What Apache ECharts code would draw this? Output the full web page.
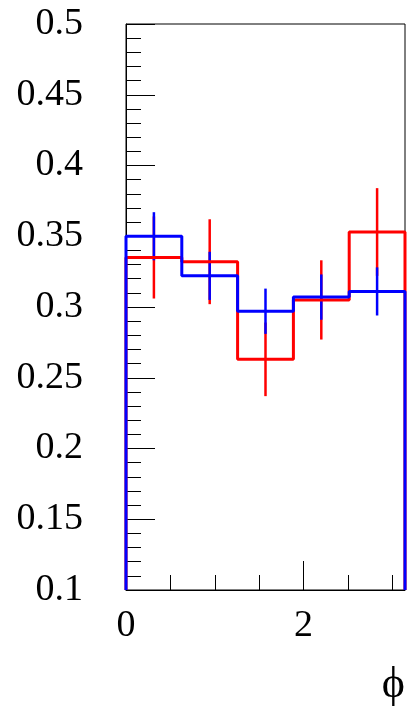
<!DOCTYPE html>
<html>
<head>
<meta charset="utf-8">
<script src="https://cdn.jsdelivr.net/npm/echarts@6/dist/echarts.min.js"></script>
<style>
  html, body { margin: 0; padding: 0; background: #fff; }
  #chart { width: 407px; height: 706px; }
</style>
</head>
<body>
<div id="chart"></div>
<script>
// Bin edges in phi (five equal bins over [0, pi])
const binEdges = [0, 0.6283, 1.2566, 1.8850, 2.5133, 3.1416];
// Red histogram: contents and errors per bin
const redValues = [0.335, 0.332, 0.263, 0.305, 0.353];
const redErrors = [0.029, 0.030, 0.026, 0.028, 0.031];
// Blue histogram: contents and errors per bin
const blueValues = [0.350, 0.322, 0.297, 0.307, 0.311];
const blueErrors = [0.017, 0.017, 0.016, 0.016, 0.017];
// Axis ranges and labels
const yMin = 0.1, yMax = 0.5;
const xMin = 0, xMax = 3.1416;
const xLabelValues = [0, 2];
const xTitle = 'ϕ';

const FONT = 'Liberation Serif';
const LABEL_SIZE = 38;

// Outline of a histogram: vertical drops at both ends, flat top on every bin
function stepOutline(values) {
  const pts = [[binEdges[0], yMin]];
  values.forEach((v, i) => {
    pts.push([binEdges[i], v]);
    pts.push([binEdges[i + 1], v]);
  });
  pts.push([binEdges[binEdges.length - 1], yMin]);
  return pts;
}

// Vertical error bars at the centre of each bin
function errorRows(values, errors) {
  return values.map((v, i) => [(binEdges[i] + binEdges[i + 1]) / 2, v - errors[i], v + errors[i]]);
}

function errorSeries(values, errors, color) {
  return {
    type: 'custom',
    xAxisIndex: 0,
    yAxisIndex: 0,
    data: errorRows(values, errors),
    encode: { x: 0, y: [1, 2] },
    clip: true,
    renderItem: function (params, api) {
      const x = api.value(0);
      const a = api.coord([x, api.value(1)]);
      const b = api.coord([x, api.value(2)]);
      return {
        type: 'line',
        shape: { x1: a[0], y1: a[1], x2: b[0], y2: b[1] },
        style: { stroke: color, lineWidth: 2.5 }
      };
    }
  };
}

function stepSeries(values, color) {
  return {
    type: 'line',
    xAxisIndex: 0,
    yAxisIndex: 0,
    data: stepOutline(values),
    showSymbol: false,
    symbol: 'none',
    lineStyle: { color: color, width: 3 },
    clip: false
  };
}

const chart = echarts.init(document.getElementById('chart'), null, { renderer: 'canvas' });

chart.setOption({
  animation: false,
  backgroundColor: '#fff',
  grid: {
    left: 126, top: 24, right: 2, bottom: 116,
    show: true, borderColor: '#000', borderWidth: 1, backgroundColor: 'transparent'
  },
  xAxis: [
    {
      // minor ticks every 0.5
      type: 'value', min: xMin, max: xMax, interval: 0.5,
      position: 'bottom',
      axisLine: { show: true, onZero: false, lineStyle: { color: '#000', width: 1 } },
      axisTick: { show: true, inside: true, length: 15, lineStyle: { color: '#000', width: 1 } },
      axisLabel: { show: false },
      splitLine: { show: false }
    },
    {
      // major ticks and labels
      type: 'value', min: xMin, max: xMax, interval: 2,
      position: 'bottom',
      axisLine: { show: false, onZero: false },
      axisTick: { show: true, inside: true, length: 29, lineStyle: { color: '#000', width: 1 } },
      axisLabel: {
        show: true, margin: 17, fontFamily: FONT, fontSize: LABEL_SIZE, color: '#000',
        showMaxLabel: false,
        formatter: v => (xLabelValues.indexOf(v) >= 0 ? String(v) : '')
      },
      splitLine: { show: false }
    }
  ],
  yAxis: [{
    type: 'value', min: yMin, max: yMax, interval: 0.05,
    axisLine: { show: true, onZero: false, lineStyle: { color: '#000', width: 1 } },
    axisTick: { show: true, inside: true, length: 29, lineStyle: { color: '#000', width: 1 } },
    minorTick: { show: true, splitNumber: 5, length: 15, lineStyle: { color: '#000', width: 1 } },
    axisLabel: {
      show: true, margin: 43, fontFamily: FONT, fontSize: LABEL_SIZE, color: '#000',
      formatter: v => String(Math.round(v * 100) / 100)
    },
    splitLine: { show: false },
    minorSplitLine: { show: false }
  }],
  graphic: [{
    type: 'text',
    right: 2,
    top: 663,
    style: { text: xTitle, font: '44px "' + FONT + '"', fill: '#000' }
  }],
  series: [
    stepSeries(redValues, '#ff0000'),
    errorSeries(redValues, redErrors, '#ff0000'),
    stepSeries(blueValues, '#0000ff'),
    errorSeries(blueValues, blueErrors, '#0000ff')
  ]
});
</script>
</body>
</html>
